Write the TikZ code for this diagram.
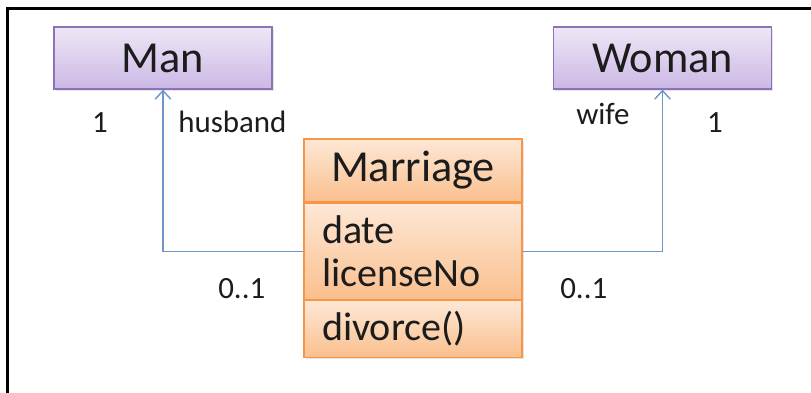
\documentclass[tikz,border=0pt]{standalone}
\usepackage{fontspec}
\setmainfont{Carlito}
\usetikzlibrary{positioning,arrows.meta,shadows}

\definecolor{clsline}{HTML}{8E72B6}
\definecolor{clstop}{HTML}{EEE7F6}
\definecolor{clsbot}{HTML}{CBB8E5}
\definecolor{asline}{HTML}{F79646}
\definecolor{astop}{HTML}{FDE8D6}
\definecolor{asbot}{HTML}{FABF8D}
\definecolor{linkcol}{HTML}{6F95C9}
\definecolor{ink}{HTML}{1C1C1C}

\tikzset{
  umlclass/.style={draw=clsline, line width=0.9pt, top color=clstop, bottom color=clsbot,
    minimum width=5.45cm, minimum height=1.55cm, text=ink,
    font=\fontsize{31.5}{34}\selectfont,
    drop shadow={opacity=0.2, shadow xshift=1.2pt, shadow yshift=-1.2pt}},
  assocpart/.style={draw=asline, line width=0.9pt, top color=astop, bottom color=asbot,
    text=ink, font=\fontsize{28.5}{31}\selectfont,
    drop shadow={opacity=0.2, shadow xshift=1.2pt, shadow yshift=-1.2pt}},
  rolelabel/.style={text=ink, font=\fontsize{22}{24}\selectfont, inner sep=0pt, anchor=base},
  link/.style={draw=linkcol, line width=1pt, -{Straight Barb[length=6pt,width=11pt]}},
}

\begin{document}
\begin{tikzpicture}
\useasboundingbox (0,0) rectangle (20.275,-9.825);
\fill[white] (0,0) rectangle (20.275,-9.825);
\draw[black, line width=1.6pt] (0.1875,-9.9) |- (20.4,-0.2125);

% classes
\node[umlclass] (man) at (4.075,-1.45) {Man};
\node[umlclass] (woman) at (16.5625,-1.45) {Woman};

% association class
\node[assocpart, font=\fontsize{31.5}{34}\selectfont, minimum width=5.45cm, minimum height=1.575cm]
  (title) at (10.325,-4.2625) {Marriage};
\node[assocpart, text width=4.55cm, inner xsep=0.45cm, minimum height=2.4cm, align=left,
  below=0pt of title] (attrs) {date\\licenseNo};
\node[assocpart, text width=4.55cm, inner xsep=0.45cm, minimum height=1.425cm, align=left,
  below=0pt of attrs] (ops) {divorce()};

% connectors
\draw[link] (attrs.west) -| (man.south);
\draw[link] (attrs.east) -| (woman.south);

% multiplicities and roles
\node[rolelabel] (mulman) at (2.5,-3.325) {1};
\node[rolelabel, anchor=base west] (husband) at (4.45,-3.325) {husband};
\node[rolelabel, anchor=base west] (wife) at (14.4,-3.125) {wife};
\node[rolelabel] (mulwoman) at (17.875,-3.325) {1};
\node[rolelabel, anchor=base west] (mulleft) at (5.45,-7.45) {0..1};
\node[rolelabel, anchor=base west] (mulright) at (14.0,-7.45) {0..1};
\end{tikzpicture}
\end{document}
